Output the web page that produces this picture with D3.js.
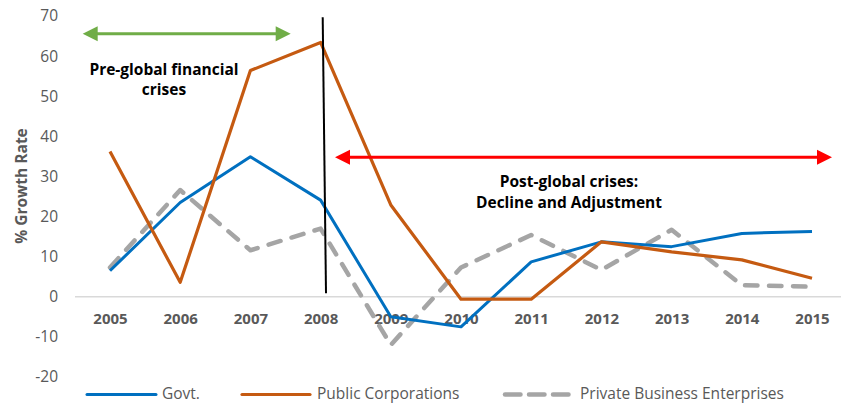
<!DOCTYPE html>
<html><head><meta charset="utf-8">
<script src="https://cdn.jsdelivr.net/npm/d3@7"></script>
<style>body{margin:0;background:#fff}svg{display:block}text{font-family:"Open Sans",sans-serif}</style>
</head><body><svg id="c" width="843" height="404"></svg>
<script>
const years = [2005,2006,2007,2008,2009,2010,2011,2012,2013,2014,2015];
const govt = [6.5,23.5,34.9,24.1,-5.0,-7.5,8.7,13.7,12.5,15.8,16.3];
const publicCorp = [36.2,3.6,56.4,63.4,22.9,-0.6,-0.6,13.7,11.2,9.2,4.6];
const privateBiz = [7.3,26.6,11.6,17.0,-12.0,7.3,15.4,6.7,16.7,2.9,2.5];
const yTicks = [70,60,50,40,30,20,10,0,-10,-20];
const seriesNames = ["Govt.","Public Corporations","Private Business Enterprises"];

const svg = d3.select("#c");
const x = d3.scaleLinear().domain([2005,2015]).range([110,812]);
const y = d3.scaleLinear().domain([-20,70]).range([377,16]);
const grey = "#595959";
const ff = "'Open Sans',sans-serif";

// zero line
svg.append("line").attr("x1",75).attr("x2",841).attr("y1",y(0)).attr("y2",y(0))
  .attr("stroke","#D9D9D9").attr("stroke-width",1.5);

// y axis labels
const yAxis = d3.axisLeft(y).tickValues(yTicks).tickSize(0).tickPadding(0).tickFormat(d=>String(d));
const ya = svg.append("g").attr("transform","translate(58,0)").call(yAxis);
ya.select(".domain").remove();
ya.selectAll("text").attr("fill",grey).style("font-size","15.5px").style("font-family",ff);

// x axis labels
const xAxis = d3.axisBottom(x).tickValues(years).tickFormat(d3.format("d")).tickSize(0).tickPadding(0);
const xa = svg.append("g").attr("transform","translate(0,313)").call(xAxis);
xa.select(".domain").remove();
xa.selectAll("text").attr("fill",grey).style("font-size","15px").style("font-weight","bold").style("font-family",ff);

// axis title
svg.append("text").attr("transform","translate(27,186) rotate(-90)").attr("text-anchor","middle")
  .attr("fill",grey).style("font-size","15.5px").style("font-weight","bold").text("% Growth Rate");

const line = d3.line().x((d,i)=>x(years[i])).y(d=>y(d));
const styles = [
  {data:govt,color:"#0070C0",w:3,dash:null},
  {data:publicCorp,color:"#C55A11",w:3.2,dash:null},
  {data:privateBiz,color:"#A5A5A5",w:4.5,dash:"12.5,11.5"}
];
[2,0,1].forEach(k=>{
  const s = styles[k];
  const p = svg.append("path").datum(s.data).attr("d",line).attr("fill","none")
    .attr("stroke",s.color).attr("stroke-width",s.w).attr("stroke-linejoin","round");
  if(s.dash) p.attr("stroke-dasharray",s.dash).attr("stroke-linecap","round");
});

// vertical divider
svg.append("line").attr("x1",322.7).attr("y1",y(69.7)).attr("x2",326).attr("y2",y(0.9))
  .attr("stroke","#000").attr("stroke-width",2);

// arrows
function dblArrow(x1,x2,yy,color){
  svg.append("line").attr("x1",x1+12).attr("x2",x2-12).attr("y1",yy).attr("y2",yy).attr("stroke",color).attr("stroke-width",3);
  svg.append("path").attr("d",`M${x1},${yy}L${x1+15},${yy-7.5}L${x1+15},${yy+7.5}Z`).attr("fill",color);
  svg.append("path").attr("d",`M${x2},${yy}L${x2-15},${yy-7.5}L${x2-15},${yy+7.5}Z`).attr("fill",color);
}
dblArrow(82.7,290.7,y(65.6),"#70AD47");
dblArrow(335,832,y(34.8),"#FF0000");

// annotations
const ann = svg.append("g").style("font-size","15.5px").style("font-weight","bold").attr("fill","#000").attr("text-anchor","middle");
ann.append("text").attr("x",164).attr("y",75).text("Pre-global financial");
ann.append("text").attr("x",164).attr("y",95).text("crises");
ann.append("text").attr("x",569).attr("y",187).text("Post-global crises:");
ann.append("text").attr("x",569).attr("y",208).text("Decline and Adjustment");

// legend
const leg = [
  {name:seriesNames[0],x1:87,x2:156,tx:162,color:"#0070C0",dash:null,w:3},
  {name:seriesNames[1],x1:242,x2:310,tx:317,color:"#C55A11",dash:null,w:3.2},
  {name:seriesNames[2],x1:505,x2:568.5,tx:580,color:"#A5A5A5",dash:"15.5,8.5",w:4.5}
];
leg.forEach(l=>{
  const ln = svg.append("line").attr("x1",l.x1).attr("x2",l.x2).attr("y1",394.5).attr("y2",394.5)
    .attr("stroke",l.color).attr("stroke-width",l.w).attr("stroke-linecap","round");
  if(l.dash) ln.attr("stroke-dasharray",l.dash);
  svg.append("text").attr("x",l.tx).attr("y",399).attr("fill",grey).style("font-size","15.5px").text(l.name);
});
</script></body></html>
